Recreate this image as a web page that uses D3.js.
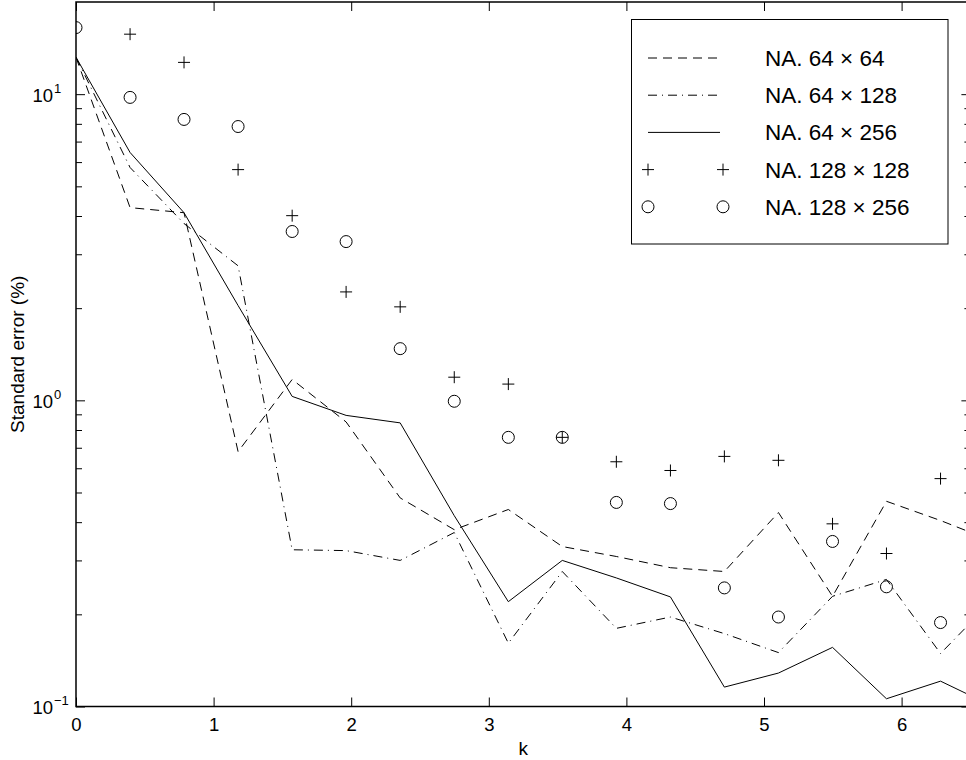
<!DOCTYPE html>
<html>
<head>
<meta charset="utf-8">
<script src="https://cdn.jsdelivr.net/npm/d3@7"></script>
<style>
  body { margin: 0; background: #fff; }
  svg { display: block; font-family: "Liberation Sans", Arial, sans-serif; }
</style>
</head>
<body>
<div id="chart"></div>
<script>
// k sample points (step pi/8), last one lies just past the right edge
const kValues = [0, 0.393, 0.785, 1.178, 1.571, 1.963, 2.356, 2.749, 3.142, 3.534,
  3.927, 4.320, 4.712, 5.105, 5.498, 5.890, 6.283, 6.676];

// standard error (%)
const na64x64 = [13.2, 4.26, 4.1, 0.68, 1.17, 0.85, 0.48, 0.378, 0.44, 0.333,
  0.309, 0.284, 0.276, 0.43, 0.229, 0.468, 0.405, 0.345];
const na64x128 = [13.2, 5.76, 3.78, 2.75, 0.325, 0.323, 0.30, 0.37, 0.161, 0.276,
  0.18, 0.196, 0.173, 0.15, 0.229, 0.26, 0.149, 0.226];
const na64x256 = [13.2, 6.45, 4.1, 2.04, 1.03, 0.893, 0.844, 0.42, 0.22, 0.30,
  0.263, 0.228, 0.1157, 0.1286, 0.156, 0.106, 0.121, 0.0995];
const na128x128 = [null, 15.7, 12.7, 5.67, 4.01, 2.26, 2.02, 1.19, 1.13, 0.757,
  0.63, 0.59, 0.656, 0.637, 0.395, 0.316, 0.555];
const na128x256 = [16.5, 9.76, 8.27, 7.84, 3.56, 3.30, 1.475, 0.993, 0.757, 0.757,
  0.464, 0.46, 0.244, 0.196, 0.346, 0.246, 0.188];

const xTicks = [0, 1, 2, 3, 4, 5, 6];
const yMajorTicks = [0.1, 1, 10];
const yExponents = ["\u22121", "0", "1"];
const yMinorTicks = [0.2, 0.3, 0.4, 0.5, 0.6, 0.7, 0.8, 0.9, 2, 3, 4, 5, 6, 7, 8, 9];

const legendLabels = ["NA. 64 \u00d7 64", "NA. 64 \u00d7 128", "NA. 64 \u00d7 256",
  "NA. 128 \u00d7 128", "NA. 128 \u00d7 256"];

let width = 966;
let height = 760;
let margin = { top: 2, left: 76, right: 970.4, bottom: 706.5 };

const svg = d3.select("#chart")
  .append("svg")
  .attr("width", width)
  .attr("height", height);

let x = d3.scaleLinear().domain([0, 6.5]).range([margin.left, margin.right]);
let y = d3.scaleLog().domain([0.1, 20]).range([margin.bottom, margin.top]);

svg.append("defs").append("clipPath").attr("id", "plotclip")
  .append("rect")
  .attr("x", margin.left).attr("y", margin.top)
  .attr("width", margin.right - margin.left)
  .attr("height", margin.bottom - margin.top);

// lines
const line = (vals) => d3.line()
  .defined((d, i) => vals[i] != null)
  .x((d, i) => x(kValues[i]))
  .y((d, i) => y(vals[i]))(vals);

const lineSeries = [
  { vals: na64x64, dash: "9,6" },
  { vals: na64x128, dash: "9,5,1,5" },
  { vals: na64x256, dash: null }
];

const plot = svg.append("g").attr("clip-path", "url(#plotclip)");

plot.selectAll("path.series")
  .data(lineSeries)
  .join("path")
  .attr("class", "series")
  .attr("d", (d) => line(d.vals))
  .attr("fill", "none")
  .attr("stroke", "#000")
  .attr("stroke-width", 1)
  .attr("stroke-dasharray", (d) => d.dash);

// markers
const plusPath = (s) => `M${-s},0H${s}M0,${-s}V${s}`;

plot.append("g")
  .selectAll("path")
  .data(na128x128.map((v, i) => ({ k: kValues[i], v })).filter((d) => d.v != null))
  .join("path")
  .attr("transform", (d) => `translate(${x(d.k)},${y(d.v)})`)
  .attr("d", plusPath(6))
  .attr("stroke", "#000")
  .attr("stroke-width", 1)
  .attr("fill", "none");

plot.append("g")
  .selectAll("circle")
  .data(na128x256.map((v, i) => ({ k: kValues[i], v })))
  .join("circle")
  .attr("cx", (d) => x(d.k))
  .attr("cy", (d) => y(d.v))
  .attr("r", 6)
  .attr("stroke", "#000")
  .attr("stroke-width", 1)
  .attr("fill", "none");

// axes
const xAxisBottom = d3.axisBottom(x).tickValues(xTicks).tickSize(-9).tickPadding(11).tickFormat(d3.format("d"));
const xAxisTop = d3.axisTop(x).tickValues(xTicks).tickSize(-9).tickFormat("");

svg.append("g")
  .attr("transform", `translate(0,${margin.bottom})`)
  .call(xAxisBottom)
  .call((g) => g.select(".domain").remove())
  .call((g) => g.selectAll("text").attr("font-size", 18.5).attr("fill", "#000").attr("font-family", null));

svg.append("g")
  .attr("transform", `translate(0,${margin.top})`)
  .call(xAxisTop)
  .call((g) => g.select(".domain").remove());

svg.append("g")
  .attr("transform", `translate(${margin.left},0)`)
  .call(d3.axisLeft(y).tickValues(yMinorTicks).tickSize(-6).tickFormat(""))
  .call((g) => g.select(".domain").remove());

svg.append("g")
  .attr("transform", `translate(${margin.right},0)`)
  .call(d3.axisRight(y).tickValues(yMinorTicks).tickSize(-6).tickFormat(""))
  .call((g) => g.select(".domain").remove());

svg.append("g")
  .attr("transform", `translate(${margin.right},0)`)
  .call(d3.axisRight(y).tickValues(yMajorTicks).tickSize(-9).tickFormat(""))
  .call((g) => g.select(".domain").remove());

svg.append("g")
  .attr("transform", `translate(${margin.left},0)`)
  .call(d3.axisLeft(y).tickValues(yMajorTicks).tickSize(-9).tickFormat(""))
  .call((g) => g.select(".domain").remove())
  .call((g) => g.selectAll(".tick text").remove())
  .call((g) => g.selectAll(".tick").each(function (d, i) {
    const tick = d3.select(this);
    tick.append("text")
      .attr("x", -23).attr("y", 7)
      .attr("text-anchor", "end")
      .attr("fill", "#000")
      .attr("font-family", "Liberation Sans, Arial, sans-serif")
      .attr("font-size", 18.5)
      .text("10");
    tick.append("text")
      .attr("x", -22).attr("y", -2)
      .attr("text-anchor", "start")
      .attr("fill", "#000")
      .attr("font-family", "Liberation Sans, Arial, sans-serif")
      .attr("font-size", 13)
      .text(yExponents[i]);
  }));

svg.selectAll(".tick line").attr("stroke", "#000");

// frame
svg.append("rect")
  .attr("x", margin.left).attr("y", margin.top)
  .attr("width", margin.right - margin.left)
  .attr("height", margin.bottom - margin.top)
  .attr("fill", "none")
  .attr("stroke", "#000")
  .attr("stroke-width", 1.5);

// axis labels
svg.append("text")
  .attr("x", (margin.left + margin.right) / 2)
  .attr("y", 755)
  .attr("text-anchor", "middle")
  .attr("font-size", 19)
  .text("k");

svg.append("text")
  .attr("transform", `translate(24,${(margin.top + margin.bottom) / 2}) rotate(-90)`)
  .attr("text-anchor", "middle")
  .attr("font-size", 19)
  .text("Standard error (%)");

// legend
const legend = svg.append("g");
legend.append("rect")
  .attr("x", 631.5).attr("y", 19.5)
  .attr("width", 316.5).attr("height", 224.5)
  .attr("fill", "#fff")
  .attr("stroke", "#000")
  .attr("stroke-width", 1);

const rowY = (i) => 58 + i * 37.2;

legend.selectAll("line.sample")
  .data(lineSeries)
  .join("line")
  .attr("class", "sample")
  .attr("x1", 648).attr("x2", 720)
  .attr("y1", (d, i) => rowY(i)).attr("y2", (d, i) => rowY(i))
  .attr("stroke", "#000")
  .attr("stroke-width", 1)
  .attr("stroke-dasharray", (d) => d.dash);

[648, 723].forEach((mx) => {
  legend.append("path")
    .attr("transform", `translate(${mx},${rowY(3)})`)
    .attr("d", plusPath(6))
    .attr("stroke", "#000")
    .attr("fill", "none");
  legend.append("circle")
    .attr("cx", mx).attr("cy", rowY(4)).attr("r", 6)
    .attr("stroke", "#000")
    .attr("fill", "none");
});

legend.selectAll("text")
  .data(legendLabels)
  .join("text")
  .attr("x", 765)
  .attr("y", (d, i) => rowY(i) + 8)
  .attr("font-size", 22.5)
  .text((d) => d);
</script>
</body>
</html>
